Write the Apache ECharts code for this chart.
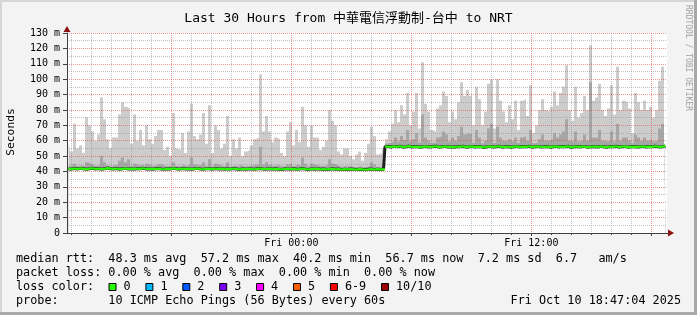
<!DOCTYPE html>
<html><head><meta charset="utf-8">
<script src="https://cdn.jsdelivr.net/npm/echarts@6/dist/echarts.min.js"></script>
<style>html,body{margin:0;padding:0;background:#f3f3f3}#c{width:697px;height:315px}</style>
</head><body><div id="c"></div>
<script>
// ---- data ----
const startHour = 12 + 47 / 60;   // Thu 12:47 (hours since Thu 00:00)
const spanHours = 30;
const stepHours = 0.15;           // one sample every 9 minutes

const medianRtt = [
41.8,41.5,41.9,41.6,42.0,41.7,41.4,41.8,42.1,41.6,
41.9,41.5,41.7,42.2,41.8,41.6,41.9,41.4,41.7,42.0,
41.6,41.8,41.5,41.9,41.7,42.1,41.6,41.8,41.5,41.7,
41.9,41.6,41.4,41.8,41.6,42.0,41.7,41.5,41.9,41.6,
41.8,41.5,41.7,42.0,41.6,41.4,41.8,41.7,41.5,41.9,
41.6,41.8,41.4,41.7,41.5,41.9,41.6,41.3,41.7,41.5,
41.8,41.6,41.4,41.7,41.9,41.5,41.6,41.8,41.4,41.7,
41.5,41.3,41.6,41.8,41.5,41.7,41.4,41.6,41.9,41.5,
41.3,41.7,41.5,41.8,41.4,41.6,41.3,41.5,41.7,41.4,
41.6,41.2,41.5,41.3,41.6,41.4,41.2,41.5,41.3,41.1,
41.4,41.6,41.2,41.5,41.3,41.4,56.2,55.9,56.3,56.0,
56.4,55.8,56.1,56.5,55.9,56.2,56.0,55.7,56.3,56.1,
55.9,56.2,56.4,55.8,56.0,56.3,55.9,56.1,55.7,56.2,
56.0,56.4,55.8,56.1,56.3,55.9,56.2,56.0,55.6,56.1,
56.3,55.9,56.1,56.4,55.8,56.0,56.2,55.7,56.1,56.3,
55.9,56.2,56.0,56.4,55.8,56.1,56.3,55.9,56.0,56.2,
55.8,56.1,56.3,55.9,56.2,56.0,56.4,55.7,56.1,56.2,
55.9,56.3,56.0,55.8,56.2,56.1,55.9,56.3,56.0,55.8,
56.2,56.0,56.4,55.9,56.1,56.3,55.8,56.0,56.2,55.9,
56.1,56.3,55.9,56.2,56.0,56.4,56.1,55.9,56.3,56.7
];

const innerSmoke = [
43.8,43.4,45,43.6,44,43.4,46,45,44,43.6,
44.2,50,46,43.8,43.4,44.2,43.8,47,49,46,
48,43.6,45,43.8,44.4,43.4,45,43.8,43.6,44.2,
45,44.4,43.4,43.6,43.2,46,43.6,43.4,44.4,43.4,
44.4,49,44.6,43.8,44.4,46,43.6,48,43.4,45,
44.4,43.6,43.6,46,43.2,43.8,43.4,44.4,43.2,43.4,
43.6,43.8,44.4,44.6,56,44.4,46,44.4,43.6,44,
43.8,43.2,43.2,44.6,45,43.6,44.6,43.6,49,45,
43.4,45,44.4,43.8,43.4,43.6,44,48,45,44.4,
43.4,43,43.6,43.4,43.2,42.8,43,43.4,42.8,43,
43.6,46,44.4,43,43,43.4,58.2,58.6,59.5,62,
59.5,63,60.5,67,59.4,61,65,58.8,77,62,
60,58.6,58.8,62,63,66,64,59.5,62,60,
63,69,64,65,64,58.6,67,62,58.4,60,
68,71,58.6,69,62,60,59.4,61,59.4,62,
58.6,62,63,60,67,58.4,58.8,61,64,60,
60,61,65,62,64,66,74,60,59.4,66,
59.4,60,64,60,98,62,62,67,60,59.4,
60,66,59.5,71,60,62,62,60,58.4,64,
62,60,62,60,61,59.4,60,68,71,58.8
];

const maxPing = [
58,53,71,55,57,52,75,70,66,60,
64,88,74,61,55,62,62,77,85,82,
81,58,77,60,67,57,70,61,58,63,
67,67,54,56,50,78,55,54,65,52,
66,84,63,61,64,78,58,83,52,70,
67,55,58,76,50,61,55,62,50,53,
54,57,61,62,103,66,76,66,59,62,
61,52,50,66,72,57,67,59,82,70,
56,70,62,62,54,56,60,80,73,70,
53,51,55,55,50,48,51,53,47,52,
58,69,63,51,52,55,61,66,71,80,
72,83,77,91,70,79,91,68,111,84,
79,67,66,81,83,92,89,72,79,74,
85,98,89,93,89,70,95,87,70,79,
97,100,68,100,86,79,72,83,74,86,
67,86,87,76,96,65,70,80,87,80,
79,82,92,83,91,95,109,80,73,95,
75,78,89,80,122,86,88,97,80,76,
81,96,77,108,80,86,85,81,65,91,
85,80,86,80,82,75,80,99,108,68
];

const minorHours = [13,14,15,16,17,19,20,21,22,23,25,26,27,28,29,31,32,33,34,35,37,38,39,40,41];
const majorHours = [18,24,30,36,42];
const labelHours = [24,36];
const labelTexts = ['Fri 00:00','Fri 12:00'];

const titleText = 'Last 30 Hours from 中華電信浮動制-台中 to NRT';
const yAxisTitle = 'Seconds';
const watermark = 'RRDTOOL / TOBI OETIKER';
const legendLine1 = 'median rtt:  48.3 ms avg  57.2 ms max  40.2 ms min  56.7 ms now  7.2 ms sd  6.7   am/s';
const legendLine2 = 'packet loss: 0.00 % avg  0.00 % max  0.00 % min  0.00 % now';
const legendLine3 = 'loss color:';
const legendLine4 = 'probe:       10 ICMP Echo Pings (56 Bytes) every 60s';
const dateText = 'Fri Oct 10 18:47:04 2025';
const lossLabels = ['0','1','2','3','4','5','6-9','10/10'];
const lossColors = ['#26ff00','#00b8ff','#0059ff','#7e00ff','#ff00ff','#ff5e00','#ff0000','#a00000'];

// ---- build ----
const MONO = '"DejaVu Sans Mono", monospace';
const xs = medianRtt.map((_, i) => startHour + (i + 0.5) * stepHours);
const jump = medianRtt.findIndex(v => v > 50);
const medPairs = xs.map((x, i) => [x, medianRtt[i]]);
const innerPairs = xs.map((x, i) => [x, innerSmoke[i]]);
const maxPairs = xs.map((x, i) => [x, maxPing[i]]);
const greenA = xs.map((x, i) => [x, i < jump ? medianRtt[i] : null]);
const greenB = xs.map((x, i) => [x, i >= jump ? medianRtt[i] : null]);

const chart = echarts.init(document.getElementById('c'), null, {renderer: 'canvas', width: 697, height: 315});
const GRID_GREY = 'rgba(143,143,143,0.55)';
const GRID_RED = 'rgba(222,80,80,0.6)';
const AXIS_C = '#404040';

const lfont = '11.8px ' + MONO;
const graphics = [];
graphics.push({type:'rect', shape:{x:0,y:0,width:697,height:2}, style:{fill:'#d6d6d6'}, silent:true});
graphics.push({type:'rect', shape:{x:0,y:0,width:2,height:315}, style:{fill:'#d6d6d6'}, silent:true});
graphics.push({type:'rect', shape:{x:0,y:312,width:697,height:3}, style:{fill:'#a8a8a8'}, silent:true});
graphics.push({type:'rect', shape:{x:694,y:0,width:3,height:315}, style:{fill:'#a8a8a8'}, silent:true});
graphics.push({type:'text', x:688, y:5, rotation:-Math.PI/2, style:{text:watermark, font:'8px '+MONO, fill:'#a0a0a0', align:'left', verticalAlign:'middle'}, silent:true});
graphics.push({type:'text', x:11, y:132, rotation:Math.PI/2, style:{text:yAxisTitle, font:'11.3px '+MONO, fill:'#000', align:'center', verticalAlign:'middle'}, silent:true});
const lines = [legendLine1, legendLine2, legendLine3, legendLine4];
lines.forEach((t, k) => graphics.push({type:'text', x:16, y:259 + 14*k, style:{text:t, font:lfont, fill:'#000', align:'left', verticalAlign:'middle'}, silent:true}));
graphics.push({type:'text', x:681, y:301, style:{text:dateText, font:lfont, fill:'#000', align:'right', verticalAlign:'middle'}, silent:true});
let bx = 108.5;
lossLabels.forEach((lab, k) => {
  graphics.push({type:'rect', shape:{x:bx+0.5, y:283.5, width:7, height:7}, style:{fill:lossColors[k], stroke:'#000', lineWidth:1}, silent:true});
  graphics.push({type:'text', x:bx+15, y:287, style:{text:lab, font:lfont, fill:'#000', align:'left', verticalAlign:'middle'}, silent:true});
  bx += 29.8 + lab.length * 7.1;
});

function area(name, data, color, z) {
  return {name, type: 'line', step: 'middle', data, showSymbol: false, z, silent: true,
    lineStyle: {width: 0, opacity: 0}, areaStyle: {color, opacity: 1, origin: 'start'}};
}

const option = {
  animation: false,
  backgroundColor: '#f3f3f3',
  title: {text: titleText, left: 'center', top: 7,
    textStyle: {fontFamily: '"DejaVu Sans Mono", "Noto Sans CJK TC", monospace', fontSize: 13, fontWeight: 'normal', color: '#000'}},
  grid: {left: 67, right: 30, top: 33, bottom: 82, show: true, backgroundColor: '#ffffff', borderWidth: 0},
  xAxis: [
    {type: 'value', min: startHour, max: startHour + spanHours, position: 'bottom', z: 3,
      axisLine: {show: true, onZero: false, lineStyle: {color: AXIS_C, width: 1}},
      axisTick: {show: true, customValues: minorHours, length: 2, lineStyle: {color: AXIS_C}},
      axisLabel: {show: false},
      splitLine: {show: true, lineStyle: {color: GRID_GREY, type: [1, 1], width: 1}}},
    {type: 'value', min: startHour, max: startHour + spanHours, position: 'bottom', z: 3,
      axisLine: {show: false, onZero: false},
      axisTick: {show: true, customValues: majorHours, length: 3, lineStyle: {color: AXIS_C}},
      axisLabel: {show: true, customValues: labelHours, margin: 5, fontFamily: MONO, fontSize: 10, color: '#000',
        formatter: v => { const k = labelHours.findIndex(h => Math.abs(h - v) < 1e-6); return k >= 0 ? labelTexts[k] : ''; }},
      splitLine: {show: true, lineStyle: {color: GRID_RED, type: [1, 1], width: 1}}}
  ],
  yAxis: {type: 'value', min: 0, max: 130, interval: 10, z: 3,
    axisLine: {show: true, onZero: false, lineStyle: {color: AXIS_C, width: 1}},
    axisTick: {show: true, length: 4, lineStyle: {color: AXIS_C}},
    axisLabel: {fontFamily: MONO, fontSize: 10, color: '#000', margin: 7, formatter: v => v === 0 ? '0' : v + ' m'},
    splitLine: {show: true, lineStyle: {color: GRID_RED, type: [1, 1], width: 1}},
    minorTick: {show: false, splitNumber: 2},
    minorSplitLine: {show: true, lineStyle: {color: GRID_GREY, type: [1, 1], width: 1}}},
  graphic: graphics,
  series: [
    area('outer', maxPairs, '#cccccc', 1),
    area('inner', innerPairs, '#a6a6a6', 1.2),
    area('below', medPairs, '#ffffff', 1.4),
    {name: 'medianDark', type: 'line', step: 'middle', data: medPairs, showSymbol: false, z: 5,
      lineStyle: {width: 3, color: '#202020'}, silent: true},
    {name: 'medianA', type: 'line', step: 'middle', data: greenA, showSymbol: false, z: 6, connectNulls: false,
      lineStyle: {width: 2.2, color: lossColors[0]}, silent: true},
    {name: 'medianB', type: 'line', step: 'middle', data: greenB, showSymbol: false, z: 6, connectNulls: false,
      lineStyle: {width: 2.2, color: lossColors[0]}, silent: true}
  ]
};
chart.setOption(option);

const pEnd = chart.convertToPixel({xAxisIndex: 0, yAxisIndex: 0}, [startHour + spanHours, 0]);
const pTop = chart.convertToPixel({xAxisIndex: 0, yAxisIndex: 0}, [startHour, 130]);
const ARROW = '#8b1010';
graphics.push({type:'line', shape:{x1:pEnd[0], y1:Math.round(pEnd[1])+0.5, x2:pEnd[0]+3, y2:Math.round(pEnd[1])+0.5}, style:{stroke:AXIS_C, lineWidth:1}, z:10, silent:true});
graphics.push({type:'polygon', shape:{points:[[pEnd[0]+1, pEnd[1]-3.5],[pEnd[0]+7, pEnd[1]],[pEnd[0]+1, pEnd[1]+3.5]]}, style:{fill:ARROW}, z:10, silent:true});
graphics.push({type:'polygon', shape:{points:[[pTop[0]-3.5, pTop[1]-1],[pTop[0], pTop[1]-7],[pTop[0]+3.5, pTop[1]-1]]}, style:{fill:ARROW}, z:10, silent:true});
chart.setOption({graphic: graphics});
</script>
</body></html>
